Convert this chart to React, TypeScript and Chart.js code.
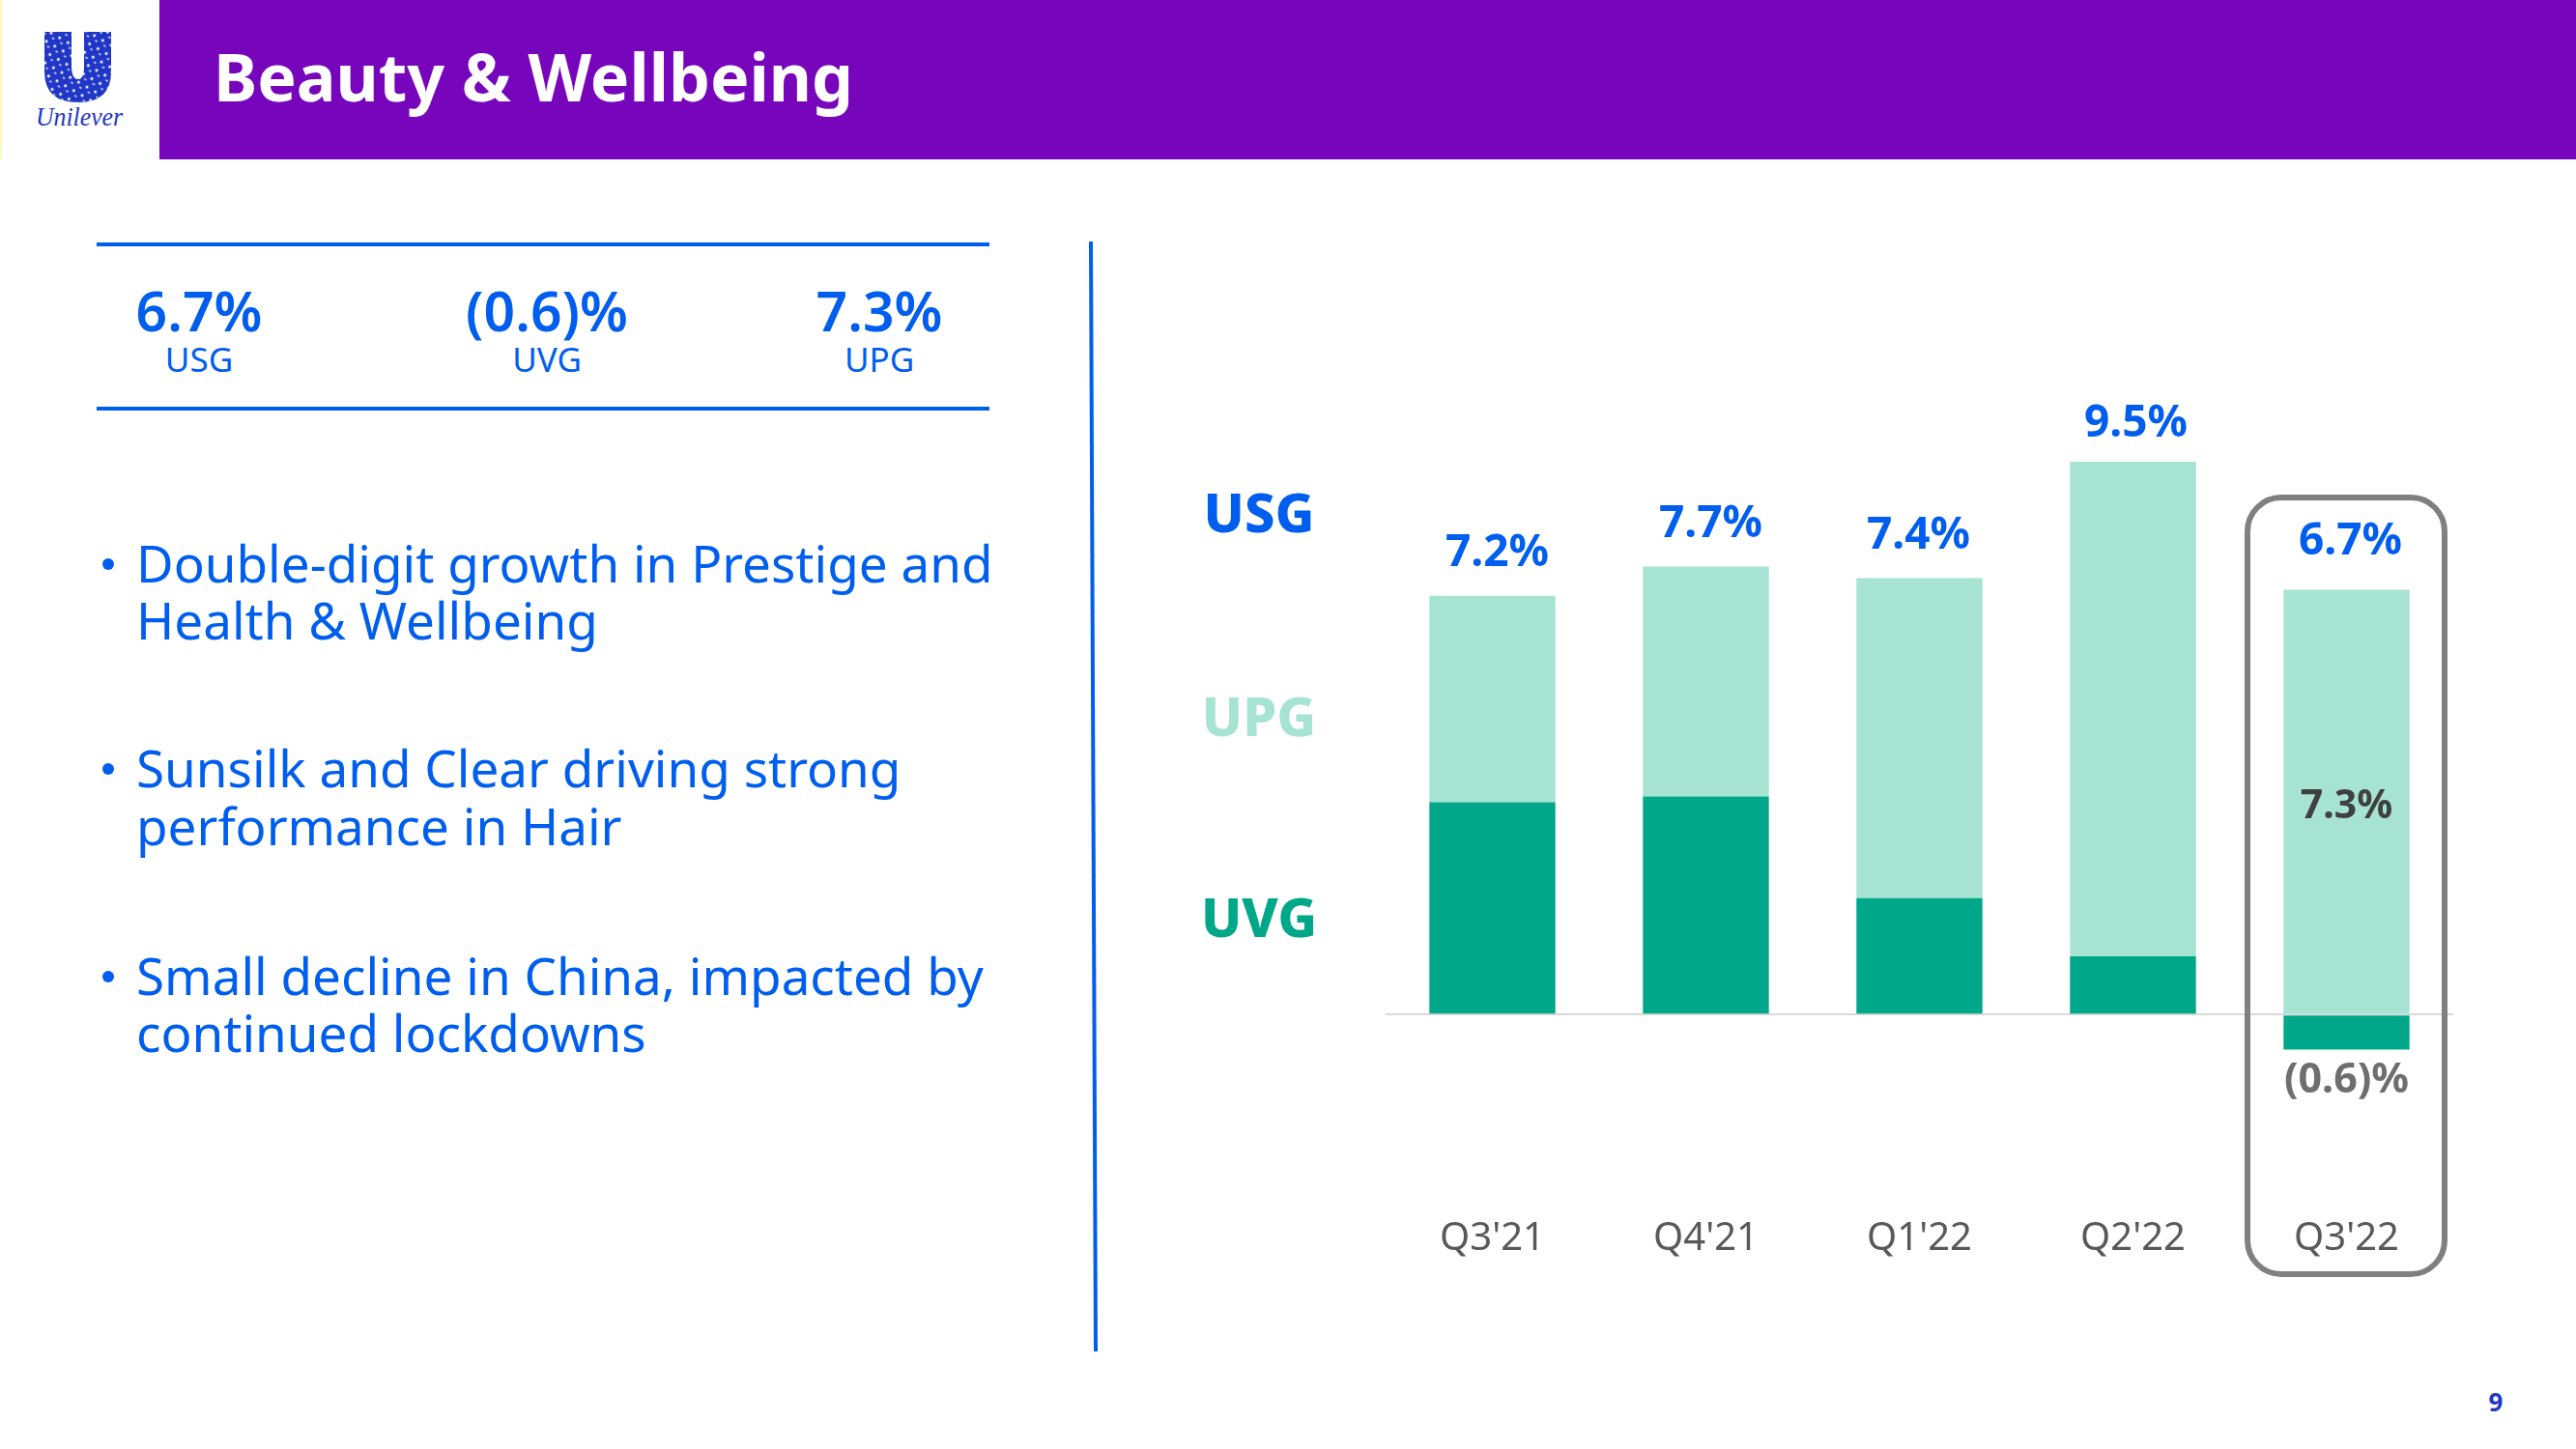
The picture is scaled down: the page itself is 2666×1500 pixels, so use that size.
import React, { useEffect, useRef } from "react";
import { Chart, registerables } from "chart.js";

Chart.register(...registerables);

const categories = ["Q3'21", "Q4'21", "Q1'22", "Q2'22", "Q3'22"];
const uvgValues = [3.65, 3.75, 2.0, 1.0, -0.6];
const upgValues = [3.55, 3.95, 5.5, 8.5, 7.3];
const usgLabels = ["7.2%", "7.7%", "7.4%", "9.5%", "6.7%"];
const upgInlineLabel = "7.3%";
const uvgInlineLabel = "(0.6)%";
const seriesNames = ["USG", "UPG", "UVG"];
const kpiValues = ["6.7%", "(0.6)%", "7.3%"];
const kpiNames = ["USG", "UVG", "UPG"];
const title = "Beauty & Wellbeing";
const pageNumber = "9";
const bulletLines = [
  ["Double-digit growth in Prestige and", "Health & Wellbeing"],
  ["Sunsilk and Clear driving strong", "performance in Hair"],
  ["Small decline in China, impacted by", "continued lockdowns"],
];

const BLUE = "#005EEF";
const PURPLE = "#7705BC";
const TEAL = "#00A889";
const MINT = "#A6E3D2";
const FONT = '"Noto Sans", sans-serif';

const CANVAS_LEFT = 1200;
const CANVAS_TOP = 400;
const labelNudgeX = [5, 5, -1, 3, 4];
const labelNudgeY = [-44, -44, -44, -39, -50];

const labelPlugin = {
  id: "valueLabels",
  afterDatasetsDraw(chart: any) {
    const { ctx, scales } = chart;
    const x = scales.x;
    const y = scales.y;
    ctx.save();
    ctx.textAlign = "center";
    ctx.textBaseline = "middle";
    ctx.font = `700 46px ${FONT}`;
    ctx.fillStyle = BLUE;
    usgLabels.forEach((t, i) => {
      const top = y.getPixelForValue(uvgValues[i] > 0 ? uvgValues[i] + upgValues[i] : upgValues[i]);
      ctx.fillText(t, x.getPixelForValue(i) + labelNudgeX[i], top + labelNudgeY[i]);
    });
    const last = categories.length - 1;
    ctx.font = `700 41px ${FONT}`;
    ctx.fillStyle = "#404040";
    ctx.fillText(upgInlineLabel, x.getPixelForValue(last), y.getPixelForValue(upgValues[last] / 2) + 5);
    ctx.font = `700 43px ${FONT}`;
    ctx.fillStyle = "#6E6E6E";
    ctx.fillText(uvgInlineLabel, x.getPixelForValue(last), y.getPixelForValue(uvgValues[last]) + 32);
    ctx.restore();
  },
};

function BarChart() {
  const ref = useRef<HTMLCanvasElement>(null);
  useEffect(() => {
    const chart = new Chart(ref.current!, {
      type: "bar",
      data: {
        labels: categories,
        datasets: [
          { label: "UVG", data: uvgValues, backgroundColor: TEAL, stack: "s", barPercentage: 0.59, categoryPercentage: 1 },
          { label: "UPG", data: upgValues, backgroundColor: MINT, stack: "s", barPercentage: 0.59, categoryPercentage: 1 },
        ],
      },
      options: {
        responsive: false,
        animation: false,
        layout: { padding: { left: 234, right: 127, top: 48, bottom: 73 } },
        plugins: { legend: { display: false }, tooltip: { enabled: false } },
        scales: {
          x: {
            stacked: true,
            grid: { display: false },
            border: { display: false },
            ticks: { color: "#595959", font: { family: FONT, size: 40 }, padding: 20, maxRotation: 0, autoSkip: false },
          },
          y: {
            stacked: true,
            min: -3,
            max: 10,
            grid: {
              drawTicks: false,
              lineWidth: 2,
              color: (c: any) => (c.tick && c.tick.value === 0 ? "#D9D9D9" : "rgba(0,0,0,0)"),
            },
            border: { display: false },
            ticks: { display: false, stepSize: 1 },
          },
        },
      },
      plugins: [labelPlugin],
    } as any);
    return () => chart.destroy();
  }, []);
  return (
    <canvas
      ref={ref}
      width={1466}
      height={1000}
      style={{ position: "absolute", left: CANVAS_LEFT, top: CANVAS_TOP, width: 1466, height: 1000 }}
    />
  );
}

function T(props: { x: number; y: number; size: number; color: string; weight?: number; align?: string; children: any }) {
  const { x, y, size, color, weight = 400, align = "center", children } = props;
  const tx = align === "center" ? "-50%" : "0";
  return (
    <div
      style={{
        position: "absolute",
        left: x,
        top: y,
        transform: `translate(${tx},-50%)`,
        fontFamily: FONT,
        fontSize: size,
        fontWeight: weight,
        color,
        whiteSpace: "nowrap",
        lineHeight: 1.2,
      }}
    >
      {children}
    </div>
  );
}

function Logo() {
  return (
    <svg style={{ position: "absolute", left: 0, top: 0 }} width={165} height={165}>
      <defs>
        <pattern id="logoDots" width="10" height="10" patternUnits="userSpaceOnUse" patternTransform="rotate(30)">
          <rect width="10" height="10" fill="#1F36C7" />
          <circle cx="3" cy="3" r="1.5" fill="#fff" />
          <ellipse cx="7.5" cy="7" rx="1.6" ry="0.8" fill="#fff" />
        </pattern>
      </defs>
      <rect x="0" y="0" width="2" height="165" fill="#FFF6C0" />
      <path
        d="M46 33 H74 V68 Q74 82 81 82 Q87 82 87 68 V33 H115 V74 Q115 106 81 106 Q46 106 46 74 Z"
        fill="url(#logoDots)"
      />
      <text
        x="82"
        y="130"
        textAnchor="middle"
        fontFamily="'Liberation Serif', serif"
        fontStyle="italic"
        fontSize="28"
        textLength={90}
        lengthAdjust="spacingAndGlyphs"
        fill="#1F36C7"
      >
        Unilever
      </text>
    </svg>
  );
}

const bulletY = [
  [583, 642],
  [795, 855],
  [1010, 1069],
];
const kpiX = [206, 566, 910];

export default function App() {
  return (
    <div style={{ position: "absolute", left: 0, top: 0, width: 2666, height: 1500, background: "#fff", overflow: "hidden" }}>
      <div style={{ position: "absolute", left: 165, top: 0, width: 2501, height: 165, background: PURPLE }} />
      <Logo />
      <T x={221} y={79} size={68} color="#fff" weight={700} align="left">{title}</T>

      <div style={{ position: "absolute", left: 100, top: 251, width: 924, height: 4, background: BLUE }} />
      <div style={{ position: "absolute", left: 100, top: 421, width: 924, height: 4, background: BLUE }} />
      {kpiValues.map((v, i) => (
        <T key={v} x={kpiX[i]} y={321} size={57} color={BLUE} weight={600}>{v}</T>
      ))}
      {kpiNames.map((v, i) => (
        <T key={v} x={kpiX[i]} y={372} size={35} color={BLUE}>{v}</T>
      ))}

      {bulletLines.map((lines, i) => (
        <React.Fragment key={i}>
          <div style={{ position: "absolute", left: 106, top: bulletY[i][0] - 5, width: 12, height: 12, borderRadius: 6, background: BLUE }} />
          {lines.map((l, j) => (
            <T key={l} x={141} y={bulletY[i][j]} size={53} color={BLUE} align="left">{l}</T>
          ))}
        </React.Fragment>
      ))}

      <svg style={{ position: "absolute", left: 0, top: 0 }} width={2666} height={1500}>
        <line x1={1129} y1={250} x2={1134} y2={1399} stroke={BLUE} strokeWidth={4} />
      </svg>

      <T x={1303} y={530} size={56} color={BLUE} weight={800}>{seriesNames[0]}</T>
      <T x={1303} y={741} size={56} color={MINT} weight={800}>{seriesNames[1]}</T>
      <T x={1303} y={949} size={56} color={TEAL} weight={800}>{seriesNames[2]}</T>

      <BarChart />

      <div
        style={{
          position: "absolute",
          left: 2323,
          top: 512,
          width: 210,
          height: 810,
          border: "6.5px solid #808080",
          borderRadius: 38,
          boxSizing: "border-box",
        }}
      />

      <T x={2583} y={1452} size={26} color="#1F36C7" weight={700}>{pageNumber}</T>
    </div>
  );
}
